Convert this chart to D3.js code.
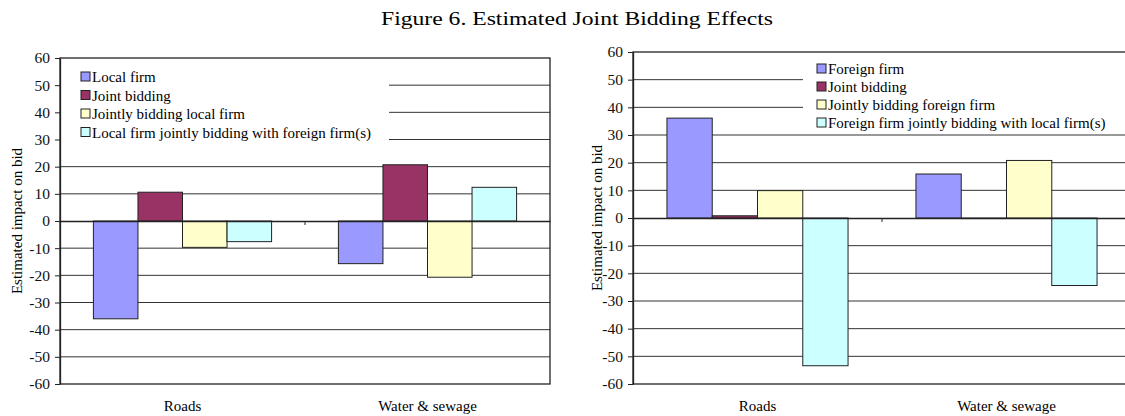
<!DOCTYPE html>
<html>
<head>
<meta charset="utf-8">
<script src="https://cdn.jsdelivr.net/npm/d3@7"></script>
<style>
  body { margin: 0; background: #fff; }
  svg { display: block; font-family: "Liberation Serif", "Times New Roman", serif; }
</style>
</head>
<body>
<svg id="chart" width="1125" height="416"></svg>
<script>
// data
const categories = ["Roads", "Water & sewage"];
const yTicks = [60, 50, 40, 30, 20, 10, 0, -10, -20, -30, -40, -50, -60];
const barColors = ["#9999ff", "#993366", "#ffffcc", "#ccffff"];

const leftSeries = ["Local firm", "Joint bidding", "Jointly bidding local firm",
  "Local firm jointly bidding with foreign firm(s)"];
const leftValues = [
  [-36.0, -15.7],   // Local firm
  [10.6, 20.7],     // Joint bidding
  [-9.7, -20.7],    // Jointly bidding local firm
  [-7.6, 12.4]      // Local firm jointly bidding with foreign firm(s)
];

const rightSeries = ["Foreign firm", "Joint bidding", "Jointly bidding foreign firm",
  "Foreign firm jointly bidding with local firm(s)"];
const rightValues = [
  [36.1, 15.9],     // Foreign firm
  [0.8, -0.2],      // Joint bidding
  [9.9, 20.8],      // Jointly bidding foreign firm
  [-53.4, -24.4]    // Foreign firm jointly bidding with local firm(s)
];

const FONT = "'Liberation Serif', 'Times New Roman', serif";
const svg = d3.select("#chart");

svg.append("text")
  .attr("x", 381)
  .attr("y", 25)
  .attr("font-family", FONT)
  .attr("font-size", "19.5px")
  .attr("textLength", 392)
  .attr("lengthAdjust", "spacingAndGlyphs")
  .text("Figure 6. Estimated Joint Bidding Effects");

function drawPanel(opt) {
  const g = svg.append("g").attr("font-family", FONT);

  const x0 = d3.scaleBand()
    .domain(categories)
    .range([opt.left, opt.right])
    .paddingInner(0).paddingOuter(0);

  // excel style: gap width 150% -> 4 bars + 1.5 bar gap per category
  const bw = x0.bandwidth() / 5.5;

  const y = d3.scaleLinear()
    .domain([-60, 60])
    .range([opt.bottom, opt.top]);

  // gridlines
  g.append("g")
    .selectAll("line")
    .data(yTicks.filter(d => d !== 60 && d !== -60 && d !== 0))
    .join("line")
    .attr("x1", opt.left)
    .attr("x2", opt.right)
    .attr("y1", d => y(d))
    .attr("y2", d => y(d))
    .attr("stroke", "#333")
    .attr("stroke-width", 1);

  // legend box hides gridlines beneath
  g.append("rect")
    .attr("x", opt.legBox[0])
    .attr("y", opt.legBox[1])
    .attr("width", opt.legBox[2])
    .attr("height", opt.legBox[3])
    .attr("fill", "#fff");

  // plot frame
  g.append("rect")
    .attr("x", opt.left)
    .attr("y", opt.top)
    .attr("width", opt.right - opt.left)
    .attr("height", opt.bottom - opt.top)
    .attr("fill", "none")
    .attr("stroke", "#222")
    .attr("stroke-width", 1.3);

  // bars
  opt.values.forEach((vals, si) => {
    g.append("g")
      .selectAll("rect")
      .data(vals.map((v, ci) => ({ v, c: categories[ci] })))
      .join("rect")
      .attr("x", d => x0(d.c) + 0.75 * bw + si * bw)
      .attr("y", d => y(Math.max(0, d.v)))
      .attr("width", bw)
      .attr("height", d => Math.abs(y(d.v) - y(0)))
      .attr("fill", barColors[si])
      .attr("stroke", "#222")
      .attr("stroke-width", 1);
  });

  // zero line / category axis
  const xAxis = g.append("g")
    .attr("transform", `translate(0,${y(0)})`)
    .call(d3.axisBottom(x0).tickSize(4).tickFormat("").tickSizeOuter(0));
  xAxis.select(".domain").attr("stroke", "#222").attr("stroke-width", 1.3);
  xAxis.selectAll(".tick").attr("transform", d => `translate(${x0(d) + x0.bandwidth()},0)`);
  xAxis.selectAll(".tick").filter((d, i) => i === categories.length - 1).remove();
  xAxis.selectAll(".tick line").attr("stroke", "#222");

  // category labels
  g.append("g")
    .selectAll("text")
    .data(categories)
    .join("text")
    .attr("x", d => x0(d) + x0.bandwidth() / 2)
    .attr("y", opt.bottom + 27)
    .attr("text-anchor", "middle")
    .attr("font-size", "15px")
    .text(d => d);

  // y axis
  const yAxis = g.append("g")
    .attr("transform", `translate(${opt.left},0)`)
    .call(d3.axisLeft(y).tickValues(yTicks).tickSize(5).tickSizeOuter(0)
      .tickPadding(5).tickFormat(d => String(d)));
  yAxis.attr("font-family", FONT).attr("font-size", "15.5px");
  yAxis.select(".domain").attr("stroke", "#222").attr("stroke-width", 1.3);
  yAxis.selectAll(".tick line").attr("stroke", "#222");
  yAxis.selectAll(".tick text").attr("fill", "#111");

  g.append("text")
    .attr("transform", `translate(${opt.yLabelX},${y(0)}) rotate(-90)`)
    .attr("text-anchor", "middle")
    .attr("font-size", "15px")
    .text("Estimated impact on bid");

  // legend
  const leg = g.append("g")
    .selectAll("g")
    .data(opt.series)
    .join("g")
    .attr("transform", (d, i) => `translate(${opt.legX},${opt.legY + i * opt.legStep})`);
  leg.append("rect")
    .attr("x", 0).attr("y", -5)
    .attr("width", 9).attr("height", 9)
    .attr("fill", (d, i) => barColors[i])
    .attr("stroke", "#222")
    .attr("stroke-width", 1);
  leg.append("text")
    .attr("x", 11)
    .attr("y", 5)
    .attr("font-size", "15px")
    .text(d => d);
}

drawPanel({
  left: 60, right: 550, top: 58, bottom: 384,
  values: leftValues, series: leftSeries,
  legBox: [61, 62, 328, 88],
  legX: 81, legY: 77, legStep: 18.5,
  yLabelX: 22
});

drawPanel({
  left: 633, right: 1131, top: 52, bottom: 384,
  values: rightValues, series: rightSeries,
  legBox: [803, 55, 330, 75],
  legX: 817, legY: 69, legStep: 18,
  yLabelX: 602
});
</script>
</body>
</html>
